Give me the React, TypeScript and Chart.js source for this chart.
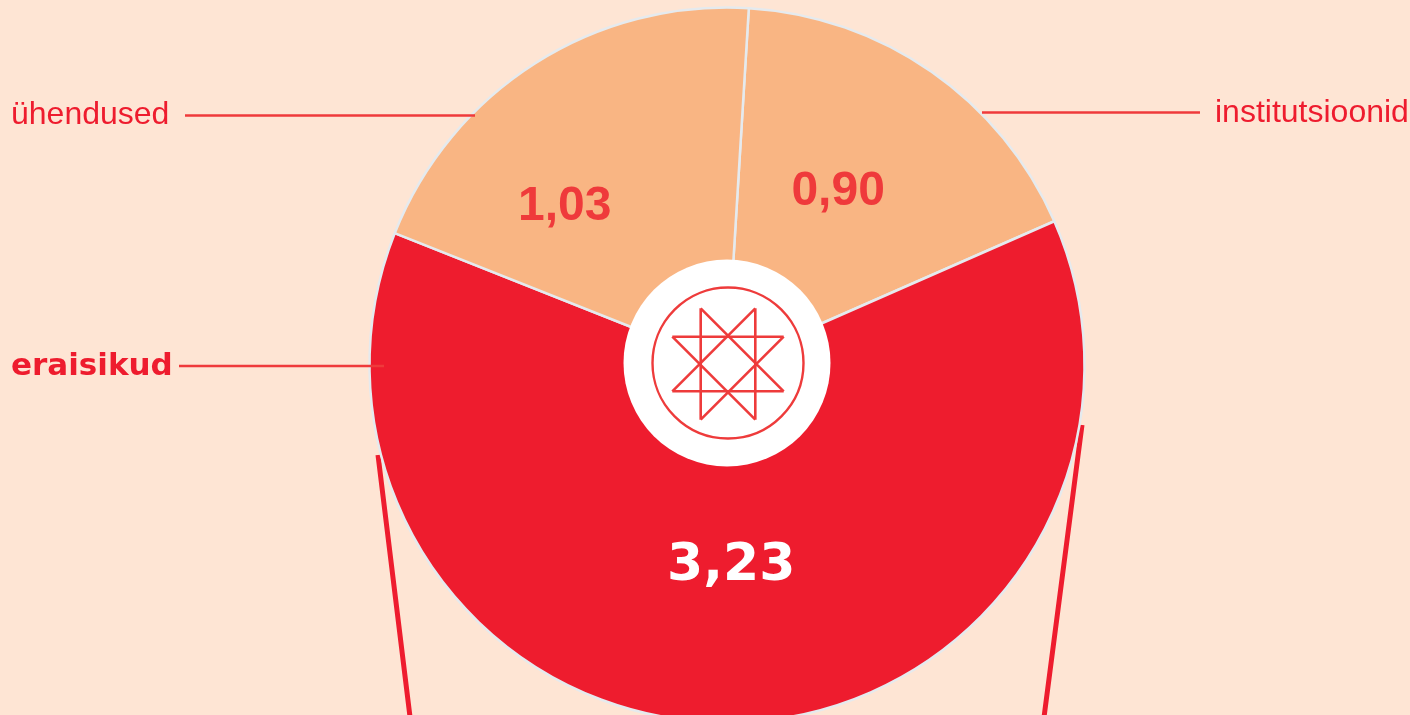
import React, { useEffect, useRef } from "react";
import { Chart, registerables } from "chart.js";

Chart.register(...registerables);

// ---- data ----
const categories = ["institutsioonid", "eraisikud", "ühendused"];
const values = [0.9, 3.23, 1.03];
const valueLabels = ["0,90", "3,23", "1,03"];

// ---- styles ----
const BG = "#fee5d4";
const RED = "#ee1c2e";
const LINE_RED = "#ef3a3b";
const PEACH = "#f9b583";
const sliceColors = [PEACH, RED, PEACH];
const valueColors = [LINE_RED, "#ffffff", LINE_RED];
const valueFonts = [
  "bold 48px 'Liberation Sans', Arial, sans-serif",
  "bold 52px 'DejaVu Sans', sans-serif",
  "bold 48px 'Liberation Sans', Arial, sans-serif",
];
const valueDigitRatio = [0.716, 0.729, 0.716];
// label placement: angle shift from slice middle (deg) and distance from centre (px)
const valueAngleShift = [-2.6, -0.2, -12.7];
const valueDist = [208, 197, 229];

const W = 1410;
const H = 730;
const CX = 727;
const CY = 365;
const R = 357.5;

const decorPlugin = {
  id: "decor",
  beforeDatasetsDraw(chart: any) {
    const ctx = chart.ctx as CanvasRenderingContext2D;
    const arc = chart.getDatasetMeta(0).data[0];
    const cx = arc.x;
    const cy = arc.y;
    ctx.save();
    // callout lines toward a chart below (drawn under the pie)
    ctx.strokeStyle = RED;
    ctx.lineWidth = 5;
    ctx.beginPath();
    ctx.moveTo(cx - 349, cy + 90);
    ctx.lineTo(cx - 316, cy + 360);
    ctx.moveTo(cx + 355, cy + 60);
    ctx.lineTo(cx + 316, cy + 360);
    ctx.stroke();
    ctx.restore();
  },
  afterDatasetsDraw(chart: any) {
    const ctx = chart.ctx as CanvasRenderingContext2D;
    const meta = chart.getDatasetMeta(0);
    const arc0 = meta.data[0];
    const cx = arc0.x;
    const cy = arc0.y;
    ctx.save();

    // value labels
    meta.data.forEach((a: any, i: number) => {
      const mid = (a.startAngle + a.endAngle) / 2 + (valueAngleShift[i] * Math.PI) / 180;
      const x = cx + Math.cos(mid) * valueDist[i];
      const y = cy - 1 + Math.sin(mid) * valueDist[i];
      ctx.font = valueFonts[i];
      ctx.fillStyle = valueColors[i];
      ctx.textAlign = "center";
      ctx.textBaseline = "alphabetic";
      const size = parseFloat(valueFonts[i].match(/(\d+)px/)![1]);
      ctx.fillText(valueLabels[i], x, y + (size * valueDigitRatio[i]) / 2);
    });

    // white centre disc
    ctx.fillStyle = "#ffffff";
    ctx.beginPath();
    ctx.arc(cx, cy - 2, 103.5, 0, Math.PI * 2);
    ctx.fill();

    // emblem: ring + eight-pointed star
    ctx.strokeStyle = "#ee3b3b";
    ctx.lineWidth = 2.4;
    ctx.beginPath();
    ctx.arc(cx + 1, cy - 2, 75.5, 0, Math.PI * 2);
    ctx.stroke();
    const sx = cx + 1;
    const sy = cy - 1;
    const a = 27.3;
    const b = 55.7;
    const segs: number[][] = [
      [-a, -b, -a, b],
      [a, -b, a, b],
      [-b, -a, b, -a],
      [-b, a, b, a],
      [-a, -b, b, a],
      [a, -b, -b, a],
      [-b, -a, a, b],
      [b, -a, -a, b],
    ];
    ctx.lineWidth = 2.6;
    ctx.beginPath();
    segs.forEach((s) => {
      ctx.moveTo(sx + s[0], sy + s[1]);
      ctx.lineTo(sx + s[2], sy + s[3]);
    });
    ctx.stroke();

    // leader lines
    ctx.strokeStyle = LINE_RED;
    ctx.lineWidth = 2.5;
    ctx.beginPath();
    // ühendused
    ctx.moveTo(185, cy - 249.5);
    ctx.lineTo(cx - 252, cy - 249.5);
    // institutsioonid
    ctx.moveTo(cx + 255, cy - 252.5);
    ctx.lineTo(1200, cy - 252.5);
    // eraisikud
    ctx.moveTo(179, cy + 1);
    ctx.lineTo(cx - 343, cy + 1);
    ctx.stroke();

    // category labels
    ctx.fillStyle = RED;
    ctx.textBaseline = "alphabetic";
    ctx.textAlign = "left";
    ctx.font = "32px 'Liberation Sans', Arial, sans-serif";
    ctx.fillText(categories[2], 11, cy - 241);
    ctx.fillText(categories[0], 1215, cy - 243.5);
    ctx.font = "bold 31px 'DejaVu Sans', sans-serif";
    ctx.fillText(categories[1], 11, cy + 10);

    ctx.restore();
  },
};

export default function App() {
  const ref = useRef<HTMLCanvasElement | null>(null);

  useEffect(() => {
    document.body.style.margin = "0";
    document.body.style.background = BG;
    document.body.style.overflow = "hidden";
    const canvas = ref.current!;
    const size = 2 * R;
    const left = CX - R;
    const top = CY - R;
    const chart = new Chart(canvas, {
      type: "pie",
      data: {
        labels: categories,
        datasets: [
          {
            data: values,
            backgroundColor: sliceColors,
            borderColor: "#e5eaee",
            borderWidth: 2.5,
            hoverOffset: 0,
          },
        ],
      },
      options: {
        animation: false,
        responsive: false,
        devicePixelRatio: 1,
        rotation: 3.5,
        radius: R,
        layout: {
          padding: {
            left: left,
            right: W - left - size,
            top: top,
            bottom: H - top - size,
          },
        },
        plugins: {
          legend: { display: false },
          tooltip: { enabled: false },
        },
        events: [],
      },
      plugins: [decorPlugin],
    });
    return () => chart.destroy();
  }, []);

  return (
    <div
      style={{
        position: "fixed",
        left: 0,
        top: 0,
        width: W,
        height: H,
        background: BG,
        overflow: "hidden",
      }}
    >
      <canvas ref={ref} width={W} height={H} style={{ display: "block" }} />
    </div>
  );
}
